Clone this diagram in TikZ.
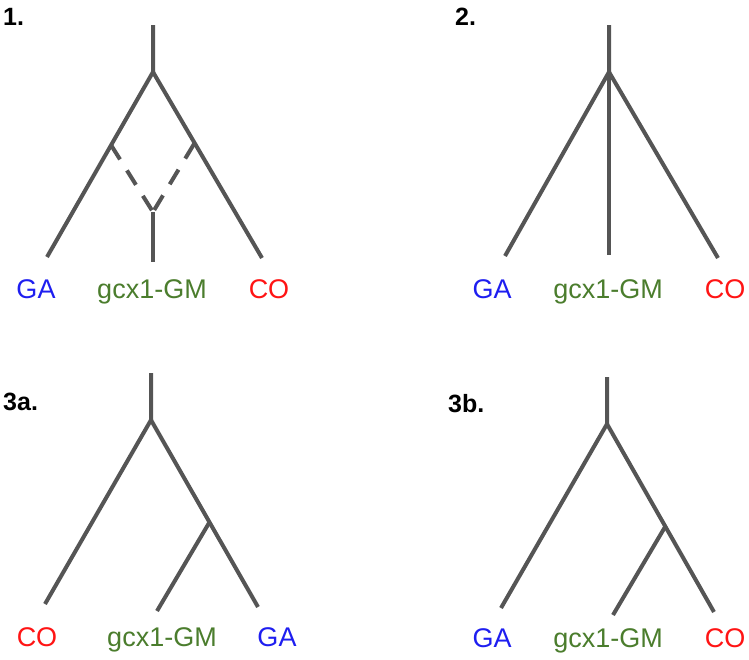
\documentclass[tikz,border=0pt]{standalone}
\usepackage{fontspec}
\setmainfont{Liberation Sans}
\definecolor{branch}{RGB}{85,85,85}
\definecolor{gablue}{RGB}{30,30,240}
\definecolor{gmgreen}{RGB}{75,125,45}
\definecolor{cored}{RGB}{255,20,20}
\tikzset{
  tree/.style={draw=branch, line width=4pt, line join=miter},
  hybrid/.style={draw=branch, line width=4pt, dash pattern=on 17pt off 13pt},
  leaflabel/.style={font=\fontsize{27}{31}\selectfont, anchor=base, inner sep=0pt},
  panellabel/.style={font=\fontsize{25}{29}\selectfont\bfseries, anchor=base west, inner sep=0pt},
}
\begin{document}
\begin{tikzpicture}[x=1pt, y=-1pt]
\useasboundingbox (0,0) rectangle (749,659);

% ---------- Panel 1 ----------
\node[panellabel] (p1) at (3,25) {1.};
\coordinate (r1) at (153,25);
\coordinate (f1) at (153,72);
\coordinate (a1) at (47,257);
\coordinate (c1) at (262,258);
\coordinate (da1) at (111,145);
\coordinate (db1) at (194,144);
\coordinate (m1) at (153,212);
\coordinate (b1) at (153,262);
\draw[tree] (r1) -- (f1) -- (a1);
\draw[tree] (f1) -- (c1);
\draw[hybrid] (da1) -- (m1);
\draw[hybrid] (db1) -- (m1);
\draw[tree] (m1) -- (b1);
\node[leaflabel, text=gablue] (ga1) at (36,298) {GA};
\node[leaflabel, text=gmgreen] (gm1) at (152,298) {gcx1-GM};
\node[leaflabel, text=cored] (co1) at (269,298) {CO};

% ---------- Panel 2 ----------
\node[panellabel] (p2) at (455,25) {2.};
\coordinate (r2) at (609,25);
\coordinate (f2) at (609,72);
\coordinate (a2) at (505,256);
\coordinate (b2) at (609,255);
\coordinate (c2) at (718,258);
\draw[tree] (r2) -- (f2) -- (a2);
\draw[tree] (f2) -- (b2);
\draw[tree] (f2) -- (c2);
\node[leaflabel, text=gablue] (ga2) at (492,298) {GA};
\node[leaflabel, text=gmgreen] (gm2) at (608,298) {gcx1-GM};
\node[leaflabel, text=cored] (co2) at (725,298) {CO};

% ---------- Panel 3a ----------
\node[panellabel] (p3) at (3,410) {3a.};
\coordinate (r3) at (151,373);
\coordinate (f3) at (151,420);
\coordinate (a3) at (45,604);
\coordinate (c3) at (258,607);
\coordinate (s3) at (209,523);
\coordinate (b3) at (157,611);
\draw[tree] (r3) -- (f3) -- (a3);
\draw[tree] (f3) -- (c3);
\draw[tree] (s3) -- (b3);
\node[leaflabel, text=cored] (co3) at (37,646) {CO};
\node[leaflabel, text=gmgreen] (gm3) at (162,646) {gcx1-GM};
\node[leaflabel, text=gablue] (ga3) at (277,646) {GA};

% ---------- Panel 3b ----------
\node[panellabel] (p4) at (448,412) {3b.};
\coordinate (r4) at (607,377);
\coordinate (f4) at (607,424);
\coordinate (a4) at (501,608);
\coordinate (c4) at (714,612);
\coordinate (s4) at (665,527);
\coordinate (b4) at (613,615);
\draw[tree] (r4) -- (f4) -- (a4);
\draw[tree] (f4) -- (c4);
\draw[tree] (s4) -- (b4);
\node[leaflabel, text=gablue] (ga4) at (492,647) {GA};
\node[leaflabel, text=gmgreen] (gm4) at (608,647) {gcx1-GM};
\node[leaflabel, text=cored] (co4) at (725,647) {CO};
\end{tikzpicture}
\end{document}
